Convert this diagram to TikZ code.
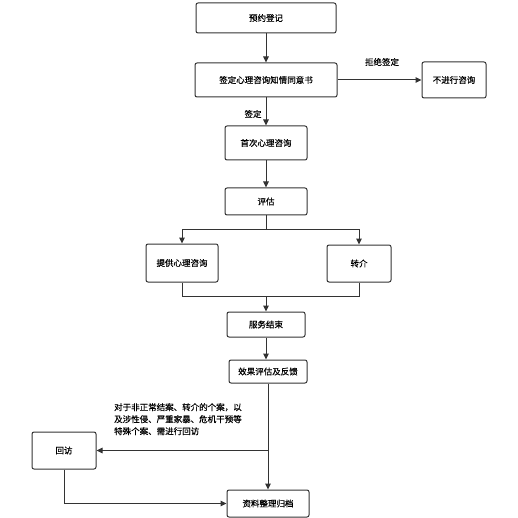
\documentclass[tikz,border=0pt]{standalone}
\usepackage{fontspec}
\setmainfont{Noto Sans CJK SC}[FakeBold=0.4]
\usetikzlibrary{arrows.meta}
\begin{document}
\begin{tikzpicture}[
    x=1pt, y=-1pt,
    box/.style={draw=black!80, line width=1pt, rounded corners=2pt, inner sep=1pt,
        font=\fontsize{8.5}{10}\selectfont},
    flow/.style={draw=black!80, line width=1pt, -{Triangle[length=6pt,width=5.5pt]}},
    seg/.style={draw=black!80, line width=1pt},
    lbl/.style={font=\fontsize{8.5}{10}\selectfont, inner sep=1pt}
]
\useasboundingbox (0,0) rectangle (518,518);

% Boxes (centre, width, height)
\newcommand{\flowbox}[5]{% name, x, y, w, h
    \node[box, minimum width=#4pt, minimum height=#5pt] (#1) at (#2,#3)
}
\flowbox{reg}{266}{18}{140}{30} {预约登记};
\flowbox{sign}{266}{80}{142}{34} {签定心理咨询知情同意书};
\flowbox{refuse}{454}{80}{64}{36} {不进行咨询};
\flowbox{first}{266}{143}{82}{34} {首次心理咨询};
\flowbox{assess}{266}{201.5}{82}{27} {评估};
\flowbox{offer}{182}{263}{72}{38} {提供心理咨询};
\flowbox{refer}{359}{263.5}{64}{37} {转介};
\flowbox{finish}{266}{324.5}{78}{25} {服务结束};
\flowbox{feedback}{268}{371.5}{78}{23} {效果评估及反馈};
\flowbox{revisit}{64}{450.5}{64}{37} {回访};
\flowbox{archive}{268}{503.5}{82}{27} {资料整理归档};

% Top part
\draw[flow] (reg) -- (sign);
\draw[flow] (sign) -- (refuse);
\node[lbl] (refuselbl) at (382,62) {拒绝签定};
\draw[flow] (sign) -- (first);
\node[lbl] (signlbl) at (253,114) {签定};
\draw[flow] (first) -- (assess);

% Split and merge
\coordinate (split) at (266,229);
\draw[seg] (assess.south) -- (split);
\draw[flow] (split) -| (offer.north);
\draw[flow] (split) -| (refer.north);
\coordinate (merge) at (266,296);
\draw[seg] (offer.south) |- (merge);
\draw[seg] (refer.south) |- (merge);
\draw[flow] (merge) -- (finish.north);
\draw[flow] (finish.south) -- (finish.south |- feedback.north);

% Bottom part
\draw[flow] (feedback) -- (archive);
\coordinate (branch) at (feedback.south |- revisit.east);
\draw[flow] (branch) -- (revisit.east);
\draw[flow] (revisit.south) |- (archive.west);
\node[lbl, anchor=north west, align=left, font=\fontsize{8.5}{12}\selectfont] (note) at (113,402)
    {对于非正常结案、转介的个案，以\\及涉性侵、严重家暴、危机干预等\\特殊个案、需进行回访};

\end{tikzpicture}
\end{document}
